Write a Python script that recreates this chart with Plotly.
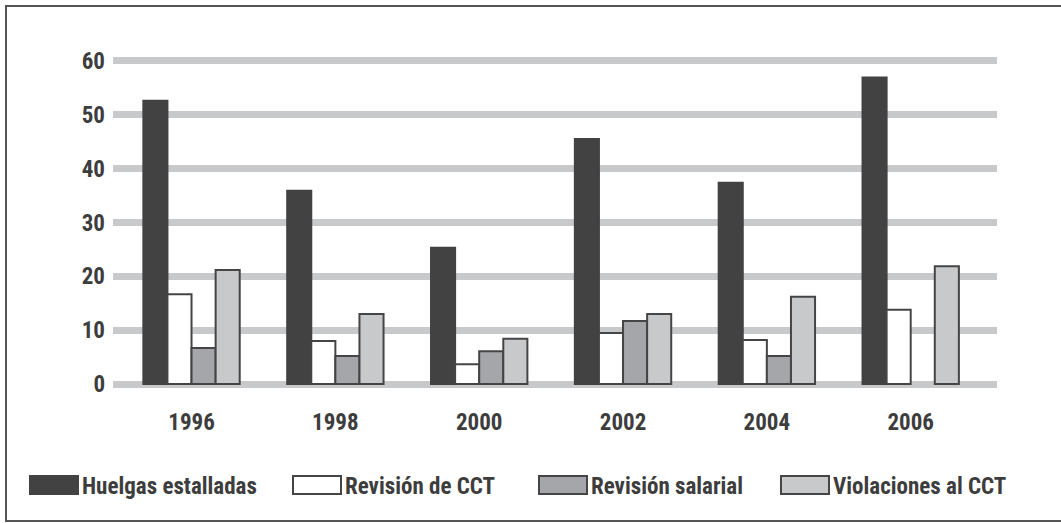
import plotly.graph_objects as go

years = ["1996", "1998", "2000", "2002", "2004", "2006"]
series_names = ["Huelgas estalladas", "Revisión de CCT", "Revisión salarial", "Violaciones al CCT"]
huelgas = [52.6, 35.9, 25.3, 45.5, 37.4, 56.9]
revision_cct = [16.7, 8.0, 3.7, 9.5, 8.2, 13.8]
revision_salarial = [6.7, 5.2, 6.1, 11.7, 5.2, None]
violaciones = [21.2, 13.0, 8.4, 13.0, 16.2, 21.9]
y_ticks = [0, 10, 20, 30, 40, 50, 60]

series_values = [huelgas, revision_cct, revision_salarial, violaciones]
fills = ["#424242", "#ffffff", "#a5a6a9", "#c8c9cb"]
lines = ["#424242", "#454545", "#454545", "#454545"]

FONT = "Roboto, Open Sans, sans-serif"
TXT = "#3d3d3d"


def cond(s):
    return "<span style='font-stretch:condensed'><b>%s</b></span>" % s


fig = go.Figure()
for name, vals, fc, lc in zip(series_names, series_values, fills, lines):
    fig.add_trace(go.Bar(
        x=years, y=vals, name=name,
        marker=dict(color=fc, line=dict(color=lc, width=2)),
        showlegend=False,
    ))

W, H = 1061, 523
L, R, T, B = 113, 64, 55, 133
pw, ph = W - L - R, H - T - B


def px_x(x):
    return (x - L) / pw


def px_y(y):
    return (H - B - y) / ph


shapes = [
    dict(type="rect", xref="paper", yref="paper",
         x0=px_x(6), x1=px_x(1075), y0=px_y(521), y1=px_y(6),
         line=dict(color="#555555", width=2), fillcolor="rgba(0,0,0,0)", layer="above"),
]
annotations = []
legend_boxes = [(30, 78), (293, 341), (539, 587), (781, 829)]
for (bx0, bx1), name, fc, lc in zip(legend_boxes, series_names, fills, lines):
    shapes.append(dict(type="rect", xref="paper", yref="paper",
                       x0=px_x(bx0), x1=px_x(bx1), y0=px_y(494), y1=px_y(476),
                       fillcolor=fc, line=dict(color=lc, width=2)))
    annotations.append(dict(xref="paper", yref="paper", x=px_x(bx1 + 2), y=px_y(486),
                            xanchor="left", yanchor="middle", showarrow=False,
                            text=cond(name),
                            font=dict(family=FONT, size=23, color=TXT)))

fig.update_layout(
    width=W, height=H,
    margin=dict(l=L, r=R, t=T, b=B, autoexpand=False),
    paper_bgcolor="white", plot_bgcolor="white",
    barmode="group", bargap=0.33, bargroupgap=0,
    font=dict(family=FONT, size=23, color=TXT),
    shapes=shapes, annotations=annotations,
    xaxis=dict(type="category", range=[-0.546, 5.6], showgrid=False, zeroline=False,
               showline=False, ticks="", ticklabelstandoff=16,
               tickvals=years, ticktext=[cond(y) for y in years],
               tickfont=dict(family=FONT, size=23, color=TXT)),
    yaxis=dict(range=[-1.1, 61.1], tickvals=y_ticks, ticktext=[cond(v) for v in y_ticks],
               showgrid=True, gridcolor="#c8c9cb", gridwidth=7, zeroline=False, showline=False,
               ticks="", ticklabelstandoff=7,
               tickfont=dict(family=FONT, size=23, color=TXT)),
)

fig.write_html("out.html", config={"displayModeBar": False},
               post_script="document.body.style.margin='0';")
